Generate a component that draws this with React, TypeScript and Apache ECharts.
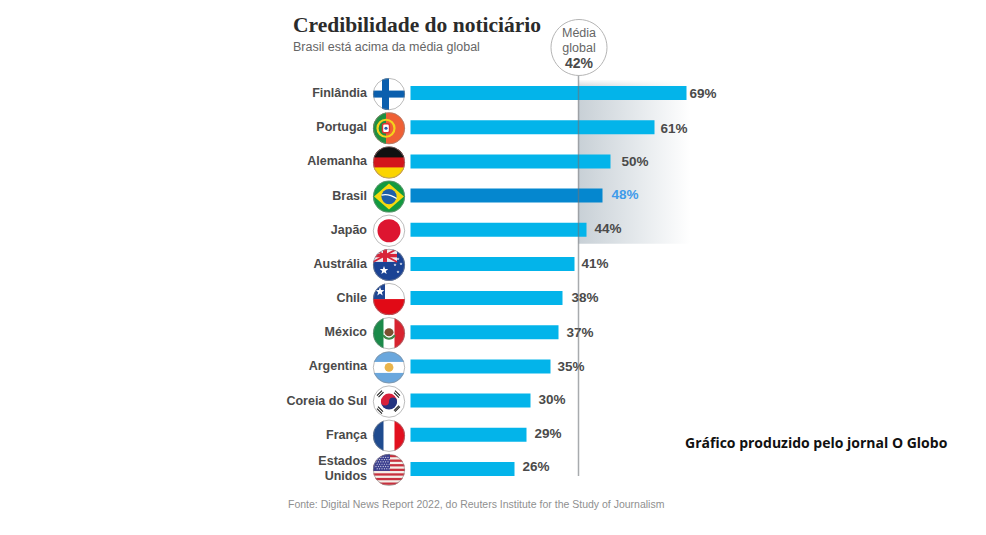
import React, { useEffect, useRef } from "react";
import * as echarts from "echarts";

const countries = ["Finlândia", "Portugal", "Alemanha", "Brasil", "Japão", "Austrália", "Chile", "México", "Argentina", "Coreia do Sul", "França", "Estados\nUnidos"];
const credibility = [69, 61, 50, 48, 44, 41, 38, 37, 35, 30, 29, 26];
const globalAverage = 42;
const highlighted = "Brasil";
const titleText = "Credibilidade do noticiário";
const subtitleText = "Brasil está acima da média global";
const sourceText = "Fonte: Digital News Report 2022, do Reuters Institute for the Study of Journalism";
const noteText = "Gráfico produzido pelo jornal O Globo";
const labelNudges: number[][] = [[3, 0], [6, 1], [11, 0], [9, -1], [8, -1], [7, 0], [9, -1], [8, 0], [7, 0], [8, -1], [8, -1], [8, -2]];

const stars = (pts: number[][], fill: string, r: number) => pts.map(([x, y]) => {
  let d = "";
  for (let i = 0; i < 10; i++) {
    const a = -Math.PI / 2 + (i * Math.PI) / 5;
    const q = i % 2 ? r * 0.42 : r;
    d += (i ? "L" : "M") + (x + q * Math.cos(a)).toFixed(2) + " " + (y + q * Math.sin(a)).toFixed(2);
  }
  return `<path d="${d}Z" fill="${fill}"/>`;
}).join("");

const usStars: number[][] = [];
for (let r = 0; r < 6; r++) for (let c = 0; c < 6; c++) usStars.push([3 + c * 2.4 + (r % 2 ? 1.2 : 0), 3.4 + r * 2.3]);
const usStripes = [0, 1, 2, 3, 4, 5, 6].map((i) => `<rect x="0" y="${1 + i * 4.6}" width="32" height="2.3" fill="#c8313e"/>`).join("");

const flagArt: Record<string, string> = {
  "Finlândia": `<rect width="32" height="32" fill="#fff"/><rect x="9" width="7" height="32" fill="#0b5fae"/><rect y="12.5" width="32" height="7" fill="#0b5fae"/>`,
  "Portugal": `<rect width="32" height="32" fill="#ef6035"/><rect width="13" height="32" fill="#1f8f3f"/><circle cx="13" cy="16" r="8.5" fill="none" stroke="#f4d21c" stroke-width="2.2"/><rect x="9.5" y="11.5" width="7" height="9" rx="2" fill="#fff" stroke="#d33" stroke-width="1.4"/><circle cx="13" cy="16" r="1.6" fill="#2a5cab"/>`,
  "Alemanha": `<rect width="32" height="32" fill="#d3151b"/><rect width="32" height="11" fill="#111"/><rect y="21" width="32" height="11" fill="#fbd400"/>`,
  "Brasil": `<rect width="32" height="32" fill="#129a3f"/><path d="M16 3 31 16 16 29 1 16Z" fill="#f6d90f"/><circle cx="16" cy="16" r="7.6" fill="#1f5fa8"/><path d="M8.6 14.5Q16 12.8 23.6 18" fill="none" stroke="#fff" stroke-width="1.2"/>`,
  "Japão": `<rect width="32" height="32" fill="#fff"/><circle cx="16" cy="16" r="11.5" fill="#dd1530"/>`,
  "Austrália": `<rect width="32" height="32" fill="#1b4394"/><rect width="24" height="13" fill="#f1e9ee"/><path d="M0 0 24 13M24 0 0 13" stroke="#d8243a" stroke-width="1.8"/><rect x="10" width="4" height="13" fill="#d8243a"/><rect y="5" width="24" height="3.4" fill="#d8243a"/>${stars([[11, 21.5]], "#fff", 4.5)}${stars([[25, 10], [28, 15], [22, 16], [25, 23]], "#fff", 1.6)}`,
  "Chile": `<rect width="32" height="32" fill="#fff"/><rect y="16" width="32" height="16" fill="#e10a16"/><rect width="12" height="16" fill="#1e4694"/>${stars([[7, 8.6]], "#fff", 4.6)}`,
  "México": `<rect width="32" height="32" fill="#fff"/><rect width="10.5" height="32" fill="#1b8a4a"/><rect x="21.5" width="10.5" height="32" fill="#d8232f"/><ellipse cx="16" cy="15" rx="4.5" ry="4" fill="#7b5030"/><path d="M10 18Q16 25 22 18" fill="none" stroke="#3f8a4a" stroke-width="2"/>`,
  "Argentina": `<rect width="32" height="32" fill="#fff"/><rect width="32" height="10.5" fill="#6aa7dd"/><rect y="21.5" width="32" height="10.5" fill="#6aa7dd"/><circle cx="16" cy="16" r="4.4" fill="#e9b44c"/>`,
  "Coreia do Sul": `<rect width="32" height="32" fill="#fff"/><path d="M8 16a8 8 0 0 1 16 0Z" fill="#d8203a"/><path d="M8 16a8 8 0 0 0 16 0Z" fill="#24347f"/><circle cx="12" cy="16" r="4" fill="#d8203a"/><circle cx="20" cy="16" r="4" fill="#24347f"/><path d="M4 10 9 5M5.500 11.500 10.500 6.500M22 5 27 10M21 7 26 12M5 21 10 26M4 23 9 28M22 26 27 21M21 25 26 20" stroke="#222" stroke-width="1.1"/>`,
  "França": `<rect width="32" height="32" fill="#fff"/><rect width="10.5" height="32" fill="#1f4b8f"/><rect x="21.500" width="10.500" height="32" fill="#e2101f"/>`,
  "Estados\nUnidos": `<rect width="32" height="32" fill="#f4efe9"/>${usStripes}<rect width="17" height="17" fill="#3b3f8f"/>${stars(usStars, "#e8e8f2", 0.9)}`,
};

const flagUri = (name: string) => {
  const svg = `<svg xmlns="http://www.w3.org/2000/svg" viewBox="0 0 34 34" width="34" height="34"><defs><clipPath id="c"><circle cx="16" cy="16" r="16"/></clipPath></defs><g transform="translate(1 1)"><g clip-path="url(#c)">${flagArt[name]}</g><circle cx="16" cy="16" r="15.7" fill="none" stroke="#8e8e8e" stroke-width="0.6"/></g></svg>`;
  return "data:image/svg+xml;charset=utf-8," + encodeURIComponent(svg);
};

const SANS = '"Liberation Sans", Arial, sans-serif';

export default function App() {
  const ref = useRef<HTMLDivElement>(null);
  useEffect(() => {
    const chart = echarts.init(ref.current!, undefined, { renderer: "svg" });
    const centered = (text: string, y: number, extra: object) => ({
      type: "text", x: 579, y, z: 10,
      style: { text, align: "center", verticalAlign: "middle", fontFamily: SANS, ...extra },
    });
    chart.setOption({
      animation: false,
      backgroundColor: "#ffffff",
      grid: { left: 410.5, top: 76, width: 400, height: 410 },
      xAxis: { type: "value", min: 0, max: 100, show: false },
      yAxis: {
        type: "category",
        inverse: true,
        data: countries,
        axisLine: { show: false },
        axisTick: { show: false },
        axisLabel: { color: "#4a4a4a", fontFamily: SANS, fontWeight: "bold", fontSize: 12.5, lineHeight: 15, margin: 43.5, padding: [2, 0, 0, 0] },
      },
      graphic: [
        { type: "text", x: 293, y: 25, style: { text: titleText, fontFamily: '"Liberation Serif", serif', fontWeight: "bold", fontSize: 21.5, fill: "#2b2b2b", verticalAlign: "middle" } },
        { type: "text", x: 293, y: 47, style: { text: subtitleText, fontFamily: SANS, fontSize: 12.5, fill: "#666666", verticalAlign: "middle" } },
        { type: "circle", z: 9, shape: { cx: 579, cy: 47.5, r: 28 }, style: { fill: "#ffffff", stroke: "#b5b5b5", lineWidth: 1 } },
        centered("Média", 33, { fontSize: 12.5, fill: "#666666" }),
        centered("global", 48, { fontSize: 12.5, fill: "#666666" }),
        centered(globalAverage + "%", 63, { fontSize: 14, fontWeight: "bold", fill: "#4a4a4a" }),
        { type: "text", x: 288, y: 504, style: { text: sourceText, fontFamily: SANS, fontSize: 10.5, fill: "#8f8f8f", verticalAlign: "middle" } },
        { type: "text", x: 685, y: 442, style: { text: noteText, fontFamily: '"Open Sans", sans-serif', fontWeight: "bold", fontSize: 14, fill: "#111111", verticalAlign: "middle" } },
      ],
      series: [
        {
          type: "custom", z: 1, silent: true,
          data: [[globalAverage, 70]],
          encode: { x: [0, 1] },
          renderItem: (_p: any, api: any) => {
            const x0 = api.coord([api.value(0), 0])[0];
            const x1 = api.coord([api.value(1), 0])[0];
            const top = api.coord([0, 0])[1] - 13;
            const bottom = api.coord([0, 4])[1] + 14;
            return {
              type: "group",
              children: [
                { type: "rect", shape: { x: x0, y: top, width: x1 - x0, height: bottom - top }, style: { fill: new echarts.graphic.LinearGradient(0, 0, 1, 0, [{ offset: 0, color: "#c8d0d6" }, { offset: 0.55, color: "#e6eaed" }, { offset: 1, color: "#ffffff" }]) } },
                { type: "rect", shape: { x: x0, y: top, width: x1 - x0, height: 8 }, style: { fill: new echarts.graphic.LinearGradient(0, 0, 0, 1, [{ offset: 0, color: "rgba(255,255,255,0.9)" }, { offset: 1, color: "rgba(255,255,255,0)" }]) } },
              ],
            };
          },
        },
        {
          type: "bar", z: 2, barWidth: 14,
          data: credibility.map((v, i) => ({
            value: v,
            itemStyle: { color: countries[i] === highlighted ? "#0587cf" : "#03b4ea" },
            label: {
              offset: labelNudges[i],
              color: countries[i] === highlighted ? "#3f9bea" : "#4a4a4a",
            },
          })),
          label: { show: true, position: "right", distance: 0, formatter: "{c}%", fontFamily: SANS, fontWeight: "bold", fontSize: 13.5 },
        },
        {
          type: "custom", z: 3, silent: true,
          data: [[globalAverage]],
          encode: { x: 0 },
          renderItem: (_p: any, api: any) => {
            const x = api.coord([api.value(0), 0])[0];
            return { type: "line", shape: { x1: x, y1: 75, x2: x, y2: 476 }, style: { stroke: "rgba(110,115,120,0.6)", lineWidth: 1.5 } };
          },
        },
        {
          type: "custom", z: 4, silent: true,
          data: countries.map((_, i) => [0, i]),
          encode: { x: 0, y: 1 },
          renderItem: (p: any, api: any) => {
            const [x, y] = api.coord([0, api.value(1)]);
            return { type: "image", style: { image: flagUri(countries[p.dataIndex]), x: x - 38.5, y: y - 16, width: 34, height: 34 } };
          },
        },
      ],
    });
    return () => chart.dispose();
  }, []);
  return <div ref={ref} style={{ position: "absolute", left: 0, top: 0, width: 986, height: 535 }} />;
}
